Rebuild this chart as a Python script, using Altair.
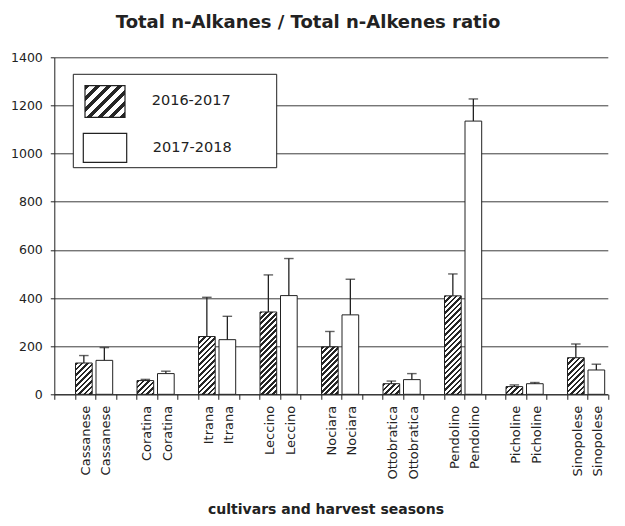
import json
import math
import altair as alt
import pandas as pd

# ---------------- data ----------------
cultivars = ["Cassanese", "Coratina", "Itrana", "Leccino", "Nociara",
             "Ottobratica", "Pendolino", "Picholine", "Sinopolese"]
seasons = ["2016-2017", "2017-2018"]
mean_1617 = [130, 57, 240, 342, 197, 44, 409, 32, 152]
sd_1617 = [31, 5, 163, 154, 64, 11, 91, 7, 57]
mean_1718 = [141, 86, 227, 410, 330, 61, 1135, 44, 101]
sd_1718 = [53, 10, 97, 154, 148, 25, 92, 5, 24]
y_ticks = [0, 200, 400, 600, 800, 1000, 1200, 1400]

title_text = "Total n-Alkanes / Total n-Alkenes ratio"
x_title = "cultivars and harvest seasons"

# ---------------- layout / style ----------------
W, H = 553.5, 337
YMAX = 1400
NSLOT = 3 * len(cultivars)
BAR_W = 16.7
BAR_DX = -1.2
FONT = "DejaVu Sans"
INK = "#222222"
STRIPE = "#262626"

rows = []
for i, c in enumerate(cultivars):
    rows.append(dict(slot=3 * i + 1, cultivar=c, season=seasons[0],
                     value=mean_1617[i], upper=mean_1617[i] + sd_1617[i]))
    rows.append(dict(slot=3 * i + 2, cultivar=c, season=seasons[1],
                     value=mean_1718[i], upper=mean_1718[i] + sd_1718[i]))
df = pd.DataFrame(rows)

slot_labels = []
for c in cultivars:
    slot_labels += ["", c, c]


def hatch(w, h, period=5.5, dark=0.48):
    """Diagonal '/' stripes as a hard-stop linear gradient (bbox units)."""
    a, b = 1.0 / h, 1.0 / w
    c = (a + b) / (a * a + b * b)
    n = (w + h) / period
    stops = []
    i = 0
    while i / n < 1:
        s = i / n
        m = min((i + dark) / n, 1.0)
        e = min((i + 1) / n, 1.0)
        stops += [alt.GradientStop(offset=s, color=STRIPE),
                  alt.GradientStop(offset=m, color=STRIPE),
                  alt.GradientStop(offset=m, color="white"),
                  alt.GradientStop(offset=e, color="white")]
        i += 1
    return alt.LinearGradient(gradient="linear", stops=stops,
                              x1=0, y1=0, x2=c * a, y2=c * b)


x_enc = alt.X(
    "slot:O",
    scale=alt.Scale(domain=list(range(NSLOT)), paddingInner=0, paddingOuter=0),
    axis=alt.Axis(
        labelExpr=json.dumps(slot_labels) + "[datum.value]",
        labelAngle=270, labelFont=FONT, labelFontSize=13, labelColor=INK,
        labelPadding=6, labelOverlap=False, labelLimit=300,
        tickBand="extent", tickSize=5, tickColor=INK, tickWidth=1,
        domainColor=INK, domainWidth=1, grid=False,
        titleFont=FONT, titleFontSize=14, titleFontWeight="bold",
        titleColor=INK, titleX=271.2, titleY=119.5,
        titleAlign="center", titleBaseline="alphabetic",
    ),
    title=x_title,
)

y_scale = alt.Scale(domain=[0, YMAX], nice=False, zero=True)
y_axis = alt.Axis(
    values=y_ticks, format="d", labelFont=FONT, labelFontSize=12.5, labelColor=INK,
    labelPadding=8, tickSize=4, tickColor=INK, domainColor=INK,
    grid=True, gridColor="#3c3c3c", gridWidth=1,
)


def yq(field):
    return alt.Y(field + ":Q", scale=y_scale, axis=y_axis, title=None)


base = alt.Chart(df)
layers = []

# hatched bars (2016-2017), one gradient per bar so the stripe pitch is constant
for v, s in zip(mean_1617, df[df.season == seasons[0]].slot):
    h_px = v / YMAX * H
    layers.append(
        base.transform_filter(alt.datum.slot == int(s))
        .mark_bar(width=BAR_W, xOffset=BAR_DX, fill=hatch(BAR_W, h_px),
                  stroke=INK, strokeWidth=1)
        .encode(x=x_enc, y=yq("value"))
    )

# open bars (2017-2018)
layers.append(
    base.transform_filter(alt.datum.season == seasons[1])
    .mark_bar(width=BAR_W, xOffset=BAR_DX, fill="white", stroke=INK, strokeWidth=1)
    .encode(x=x_enc, y=yq("value"))
)

# error bars (upper only)
layers.append(
    base.mark_rule(xOffset=BAR_DX, color=INK, strokeWidth=1.3)
    .encode(x=x_enc, y=yq("value"), y2="upper:Q")
)
layers.append(
    base.mark_tick(xOffset=BAR_DX, size=9.5, thickness=1.4, color=INK)
    .encode(x=x_enc, y=yq("upper"))
)

# legend box drawn inside the plot
one = alt.InlineData(values=[{"k": 0}])
leg = alt.Chart(one)
layers.append(
    leg.mark_rect(fill="white", stroke=INK, strokeWidth=1)
    .encode(x=alt.value(19), x2=alt.value(222.4), y=alt.value(17), y2=alt.value(110.4))
)
layers.append(
    leg.mark_rect(fill=hatch(40, 31.6, period=11, dark=0.45), stroke=INK, strokeWidth=1.2)
    .encode(x=alt.value(30.7), x2=alt.value(70.7), y=alt.value(28.4), y2=alt.value(60))
)
layers.append(
    leg.mark_rect(fill="white", stroke=INK, strokeWidth=1.2)
    .encode(x=alt.value(29), x2=alt.value(72.4), y=alt.value(76), y2=alt.value(105))
)
layers.append(
    leg.mark_text(text=seasons[0], align="left", baseline="alphabetic",
                  font=FONT, fontSize=14.5, color=INK)
    .encode(x=alt.value(97.4), y=alt.value(47.7))
)
layers.append(
    leg.mark_text(text=seasons[1], align="left", baseline="alphabetic",
                  font=FONT, fontSize=14.5, color=INK)
    .encode(x=alt.value(98.4), y=alt.value(94.4))
)

# chart title
layers.append(
    leg.mark_text(text=title_text, align="center", baseline="alphabetic",
                  font=FONT, fontSize=18, fontWeight="bold", color=INK)
    .encode(x=alt.value(253.7), y=alt.value(-29))
)

chart = (
    alt.layer(*layers)
    .properties(
        width=W, height=H,
        autosize=alt.AutoSizeParams(type="none"),
        padding={"left": 46.3, "top": 49.3, "right": 7.2, "bottom": 123.7},
        background="white",
    )
    .configure_view(stroke=None)
)

chart.save("out.html", embed_options={"renderer": "svg", "actions": False})
